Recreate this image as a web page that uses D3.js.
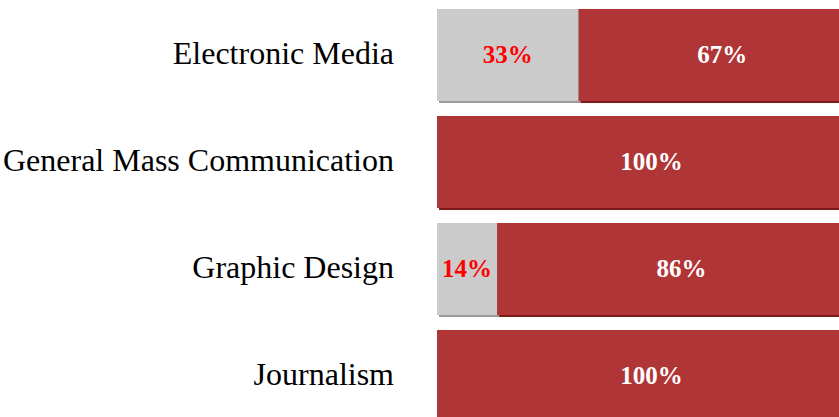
<!DOCTYPE html>
<html>
<head>
<meta charset="utf-8">
<script src="https://cdn.jsdelivr.net/npm/d3@7"></script>
<style>
html,body{margin:0;padding:0;background:#fff;overflow:hidden;}
svg{display:block;}
</style>
</head>
<body>
<svg id="chart" width="839" height="417"></svg>
<script>
const categories = ["Electronic Media", "General Mass Communication", "Graphic Design", "Journalism"];
const seriesNames = ["Other", "Majority"];
const otherValues = [33, 0, 14, 0];
const majorityValues = [67, 100, 86, 100];

const svg = d3.select("#chart");

const colors = {Other: "#cbcbcb", Majority: "#b03537"};
const shadowColors = {Other: "#9a9a9a", Majority: "#7e1a1a"};
const labelColors = {Other: "#ff0000", Majority: "#ffffff"};

const y = d3.scaleBand().domain(categories).range([1.5, 429.5])
  .paddingInner(0.14).paddingOuter(0.07);
const x = d3.scaleLinear().domain([0, 100]).range([437, 866]);

const rows = categories.map((c, i) => ({cat: c, Other: otherValues[i], Majority: majorityValues[i]}));
const stack = d3.stack().keys(seriesNames)(rows);

const segs = [];
stack.forEach(layer => {
  layer.forEach(d => {
    if (d[1] - d[0] > 0) segs.push({key: layer.key, cat: d.data.cat, x0: d[0], x1: d[1], v: d[1] - d[0]});
  });
});

// shadows
svg.append("g").selectAll("rect").data(segs).join("rect")
  .attr("x", d => x(d.x0) + 2)
  .attr("y", d => y(d.cat))
  .attr("width", d => x(d.x1) - x(d.x0))
  .attr("height", y.bandwidth() + 2)
  .attr("fill", d => shadowColors[d.key]);

svg.append("g").selectAll("rect").data(segs).join("rect")
  .attr("x", d => x(d.x0))
  .attr("y", d => y(d.cat))
  .attr("width", d => x(d.x1) - x(d.x0))
  .attr("height", y.bandwidth())
  .attr("fill", d => colors[d.key]);

svg.append("g").selectAll("text").data(segs).join("text")
  .attr("x", d => (x(d.x0) + x(d.x1)) / 2)
  .attr("y", d => y(d.cat) + y.bandwidth() / 2 + 8)
  .attr("text-anchor", "middle")
  .attr("font-family", "'Liberation Serif','Times New Roman',serif")
  .attr("font-weight", "bold")
  .attr("font-size", 25)
  .attr("fill", d => labelColors[d.key])
  .text(d => d.v + "%");

// category labels
svg.append("g").selectAll("text").data(categories).join("text")
  .attr("x", 394)
  .attr("y", d => y(d) + y.bandwidth() / 2 + 9)
  .attr("text-anchor", "end")
  .attr("font-family", "'Liberation Serif','Times New Roman',serif")
  .attr("font-size", 32)
  .attr("fill", "#000")
  .text(d => d);
</script>
</body>
</html>
